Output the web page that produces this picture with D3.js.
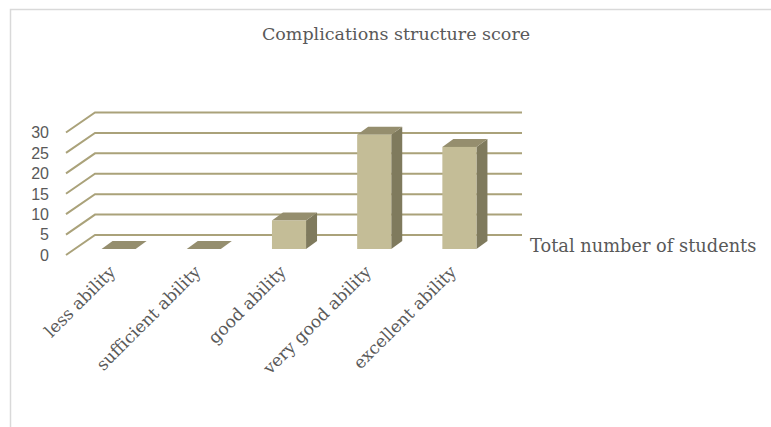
<!DOCTYPE html>
<html>
<head>
<meta charset="utf-8">
<script src="https://cdn.jsdelivr.net/npm/d3@7"></script>
<style>
  html, body { margin: 0; padding: 0; background: #ffffff; }
  svg { display: block; }
</style>
</head>
<body>
<svg id="chart" width="771" height="427"></svg>
<script>
// Chart data
const categories = ["less ability", "sufficient ability", "good ability", "very good ability", "excellent ability"];
const totalStudents = [0, 0, 7, 28, 25];
const yTicks = [0, 5, 10, 15, 20, 25, 30];
const chartTitle = "Complications structure score";
const seriesName = "Total number of students";

const svg = d3.select("#chart");
const W = 771, H = 427;

// Pseudo-3D geometry: back wall and depth offsets
const wallLeft = 95, wallRight = 522;
const floorDx = -29, floorDy = 20;   // back wall -> front edge of floor
const barDx = 11, barDy = -8;        // bar depth
const barBase = 249;

const yWall = d3.scaleLinear().domain([0, 30]).range([235, 112.5]);
const yBar = d3.scaleLinear().domain([0, 30]).range([barBase, barBase - 122.5]);
const x = d3.scaleBand().domain(categories).range([76, 502])
  .paddingInner(0.6).paddingOuter(0.3);

// Outer frame
svg.append("path")
  .attr("d", `M10.5,${H} V9.5 H${W}`)
  .attr("fill", "none").attr("stroke", "#d9d9d9").attr("stroke-width", 1.5);

// Title
svg.append("text")
  .attr("x", 396).attr("y", 40)
  .attr("text-anchor", "middle")
  .attr("font-family", "DejaVu Serif")
  .attr("font-size", 17.5)
  .attr("fill", "#595959")
  .text(chartTitle);

// Gridlines: side-wall diagonal plus back-wall line
const grid = svg.append("g");
grid.selectAll("path").data(yTicks).join("path")
  .attr("d", d => {
    const yb = yWall(d);
    return `M${wallLeft + floorDx},${yb + floorDy} L${wallLeft},${yb} H${wallRight}`;
  })
  .attr("fill", "none")
  .attr("stroke", "#aaa27a")
  .attr("stroke-width", 2);

// Y tick labels
svg.append("g").selectAll("text").data(yTicks).join("text")
  .attr("x", 49)
  .attr("y", d => yWall(d) + floorDy)
  .attr("dy", "0.36em")
  .attr("text-anchor", "end")
  .attr("font-family", "Liberation Sans")
  .attr("font-size", 16)
  .attr("fill", "#595959")
  .text(d => d);

// Bars
const bars = svg.append("g").selectAll("g")
  .data(categories.map((c, i) => ({ cat: c, v: totalStudents[i] })))
  .join("g");

bars.append("path") // side face
  .attr("d", d => {
    const x1 = x(d.cat) + x.bandwidth(), yt = yBar(d.v);
    return `M${x1},${yt} L${x1 + barDx},${yt + barDy} L${x1 + barDx},${barBase + barDy} L${x1},${barBase} Z`;
  })
  .attr("fill", "#7f7a5d");

bars.append("path") // top face
  .attr("d", d => {
    const x0 = x(d.cat), x1 = x0 + x.bandwidth(), yt = yBar(d.v);
    return `M${x0},${yt} L${x1},${yt} L${x1 + barDx},${yt + barDy} L${x0 + barDx},${yt + barDy} Z`;
  })
  .attr("fill", "#958e6e");

bars.append("rect") // front face
  .attr("x", d => x(d.cat))
  .attr("y", d => yBar(d.v))
  .attr("width", x.bandwidth())
  .attr("height", d => barBase - yBar(d.v))
  .attr("fill", "#c4bd97");

// Category labels
svg.append("g").selectAll("text").data(categories).join("text")
  .attr("transform", d => `translate(${x(d) + x.bandwidth() / 2 - 2},${273}) rotate(-45)`)
  .attr("text-anchor", "end")
  .attr("font-family", "DejaVu Serif")
  .attr("font-size", 17)
  .attr("fill", "#595959")
  .text(d => d);

// Series label
svg.append("text")
  .attr("x", 530).attr("y", 252)
  .attr("font-family", "DejaVu Serif")
  .attr("font-size", 17.8)
  .attr("fill", "#595959")
  .text(seriesName);
</script>
</body>
</html>
